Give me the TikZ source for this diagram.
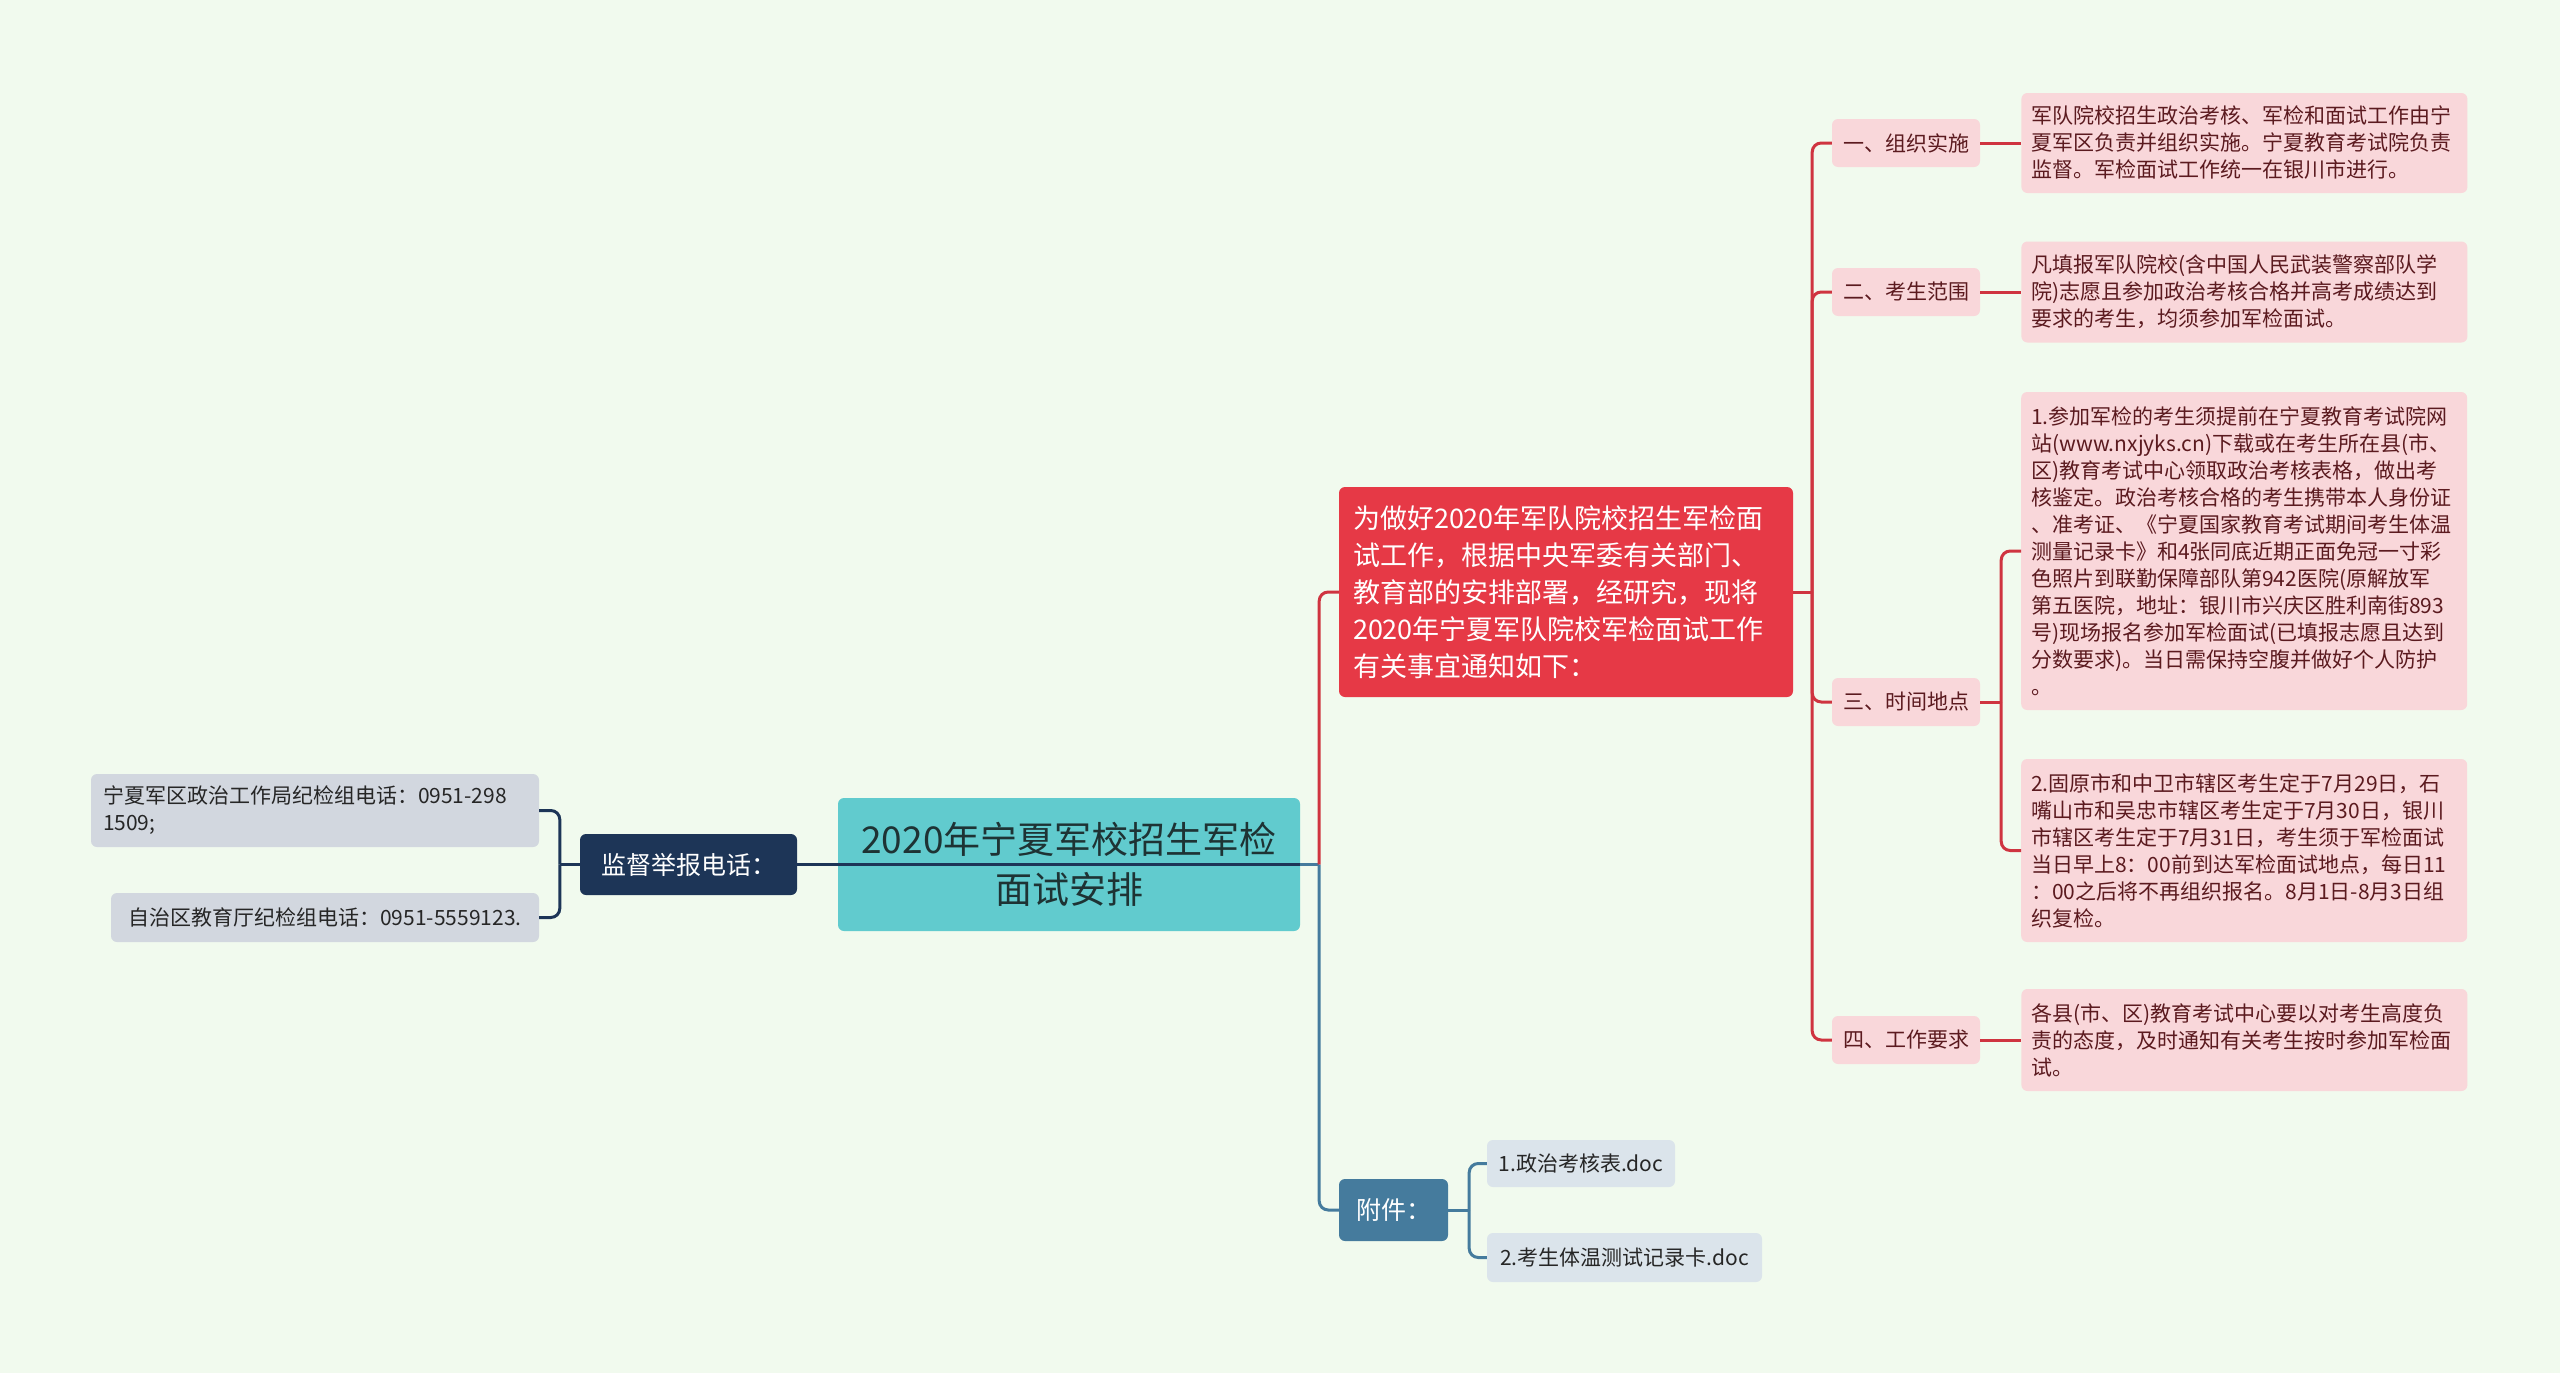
\documentclass[tikz,border=0pt]{standalone}
\usepackage{fontspec}
\setmainfont{Noto Sans CJK SC}
\usepackage{xcolor}
\usetikzlibrary{positioning}

\definecolor{bgmint}{HTML}{F1FAEE}
\definecolor{topicteal}{HTML}{61CBCE}
\definecolor{topictext}{HTML}{1E3334}
\definecolor{navy}{HTML}{1D3557}
\definecolor{alertred}{HTML}{E63946}
\definecolor{linered}{HTML}{CF3440}
\definecolor{steel}{HTML}{457B9D}
\definecolor{notepink}{HTML}{F9D7DA}
\definecolor{notetext}{HTML}{5B1A1F}
\definecolor{greyleaf}{HTML}{D2D7DF}
\definecolor{blueleaf}{HTML}{DBE4EB}

\begin{document}
\begin{tikzpicture}[
  x=1pt, y=-1pt,
  box/.style={rounded corners=6pt, inner sep=0pt, align=center},
  topic/.style={box, fill=topicteal, text=topictext, font=\fontsize{37}{50}\selectfont},
  navybox/.style={box, fill=navy, text=white, font=\fontsize{25}{32}\selectfont},
  redbox/.style={box, fill=alertred, text=white, align=left, text width=426pt,
                 inner xsep=14pt, font=\fontsize{27}{37}\selectfont},
  bluebox/.style={box, fill=steel, text=white, font=\fontsize{25}{32}\selectfont},
  tag/.style={box, fill=notepink, text=notetext, minimum width=148pt, minimum height=48pt,
              font=\fontsize{21}{27}\selectfont},
  note/.style={box, fill=notepink, text=notetext, align=left, text width=426pt,
               inner xsep=10pt, font=\fontsize{21}{27}\selectfont},
  greynote/.style={box, fill=greyleaf, text=black!85, font=\fontsize{21}{27}\selectfont},
  bluenote/.style={box, fill=blueleaf, text=black!85, font=\fontsize{21}{27}\selectfont},
  navyline/.style={draw=navy, line width=3pt},
  redline/.style={draw=linered, line width=3pt},
  blueline/.style={draw=steel, line width=3pt},
  elbow/.style={rounded corners=9pt}
]
\fill[bgmint] (0,0) rectangle (2560,1373);

% centre and first level
\node[topic, minimum width=462pt, minimum height=133pt] (root) at (1069,864.5)
  {2020年宁夏军校招生军检\\面试安排};
\node[navybox, minimum width=217pt, minimum height=61pt] (report) at (688.5,864.5)
  {监督举报电话：};
\node[redbox, minimum height=210pt] (notice) at (1566,592)
  {为做好2020年军队院校招生军检面\\试工作，根据中央军委有关部门、\\教育部的安排部署，经研究，现将\\2020年宁夏军队院校军检面试工作\\有关事宜通知如下：};
\node[bluebox, minimum width=109pt, minimum height=62pt] (annex) at (1393.5,1210)
  {附件：};

% left leaves
\node[greynote, align=left, text width=424pt, inner xsep=12pt, minimum height=73pt] (phoneA) at (315,810.5)
  {宁夏军区政治工作局纪检组电话：0951-298\\1509;};
\node[greynote, minimum width=428pt, minimum height=49pt] (phoneB) at (325,917.5)
  {自治区教育厅纪检组电话：0951-5559123.};

% annex leaves
\node[bluenote, minimum width=188pt, minimum height=47pt] (docA) at (1581,1163.5)
  {1.政治考核表.doc};
\node[bluenote, minimum width=275pt, minimum height=49pt] (docB) at (1624.5,1257.5)
  {2.考生体温测试记录卡.doc};

% notice items
\node[tag] (organize) at (1906,143) {一、组织实施};
\node[tag] (scope) at (1906,292) {二、考生范围};
\node[tag] (timeplace) at (1906,702) {三、时间地点};
\node[tag] (demand) at (1906,1040) {四、工作要求};

\node[note, minimum height=100pt, right=41pt of organize] (orgtext)
  {军队院校招生政治考核、军检和面试工作由宁\\夏军区负责并组织实施。宁夏教育考试院负责\\监督。军检面试工作统一在银川市进行。};
\node[note, minimum height=101pt, right=41pt of scope] (scopetext)
  {凡填报军队院校(含中国人民武装警察部队学\\院)志愿且参加政治考核合格并高考成绩达到\\要求的考生，均须参加军检面试。};
\node[note, minimum height=318pt, anchor=west] (placetext) at (2021,551)
  {1.参加军检的考生须提前在宁夏教育考试院网\\站(www.nxjyks.cn)下载或在考生所在县(市、\\区)教育考试中心领取政治考核表格，做出考\\核鉴定。政治考核合格的考生携带本人身份证\\、准考证、《宁夏国家教育考试期间考生体温\\测量记录卡》和4张同底近期正面免冠一寸彩\\色照片到联勤保障部队第942医院(原解放军\\第五医院，地址：银川市兴庆区胜利南街893\\号)现场报名参加军检面试(已填报志愿且达到\\分数要求)。当日需保持空腹并做好个人防护\\。};
\node[note, minimum height=183pt, anchor=west] (timetext) at (2021,850.5)
  {2.固原市和中卫市辖区考生定于7月29日，石\\嘴山市和吴忠市辖区考生定于7月30日，银川\\市辖区考生定于7月31日，考生须于军检面试\\当日早上8：00前到达军检面试地点，每日11\\：00之后将不再组织报名。8月1日-8月3日组\\织复检。};
\node[note, minimum height=102pt, right=41pt of demand] (demandtext)
  {各县(市、区)教育考试中心要以对考生高度负\\责的态度，及时通知有关考生按时参加军检面\\试。};

% forks
\coordinate[left=20pt of report.west] (reportfork);
\coordinate[right=19pt of root.east] (rootfork);
\coordinate[right=19pt of notice.east] (noticefork);
\coordinate[right=21pt of timeplace.east] (placefork);
\coordinate[right=21pt of annex.east] (annexfork);

% connectors
\draw[navyline] (report.east) -- (root.east);
\draw[navyline] (report.west) -- (reportfork);
\draw[navyline, elbow] (reportfork) |- (phoneA.east);
\draw[navyline, elbow] (reportfork) |- (phoneB.east);

\draw[blueline] (root.east) -- (rootfork);
\draw[redline, elbow] (rootfork) |- (notice.west);
\draw[blueline, elbow] (rootfork) |- (annex.west);

\draw[blueline] (annex.east) -- (annexfork);
\draw[blueline, elbow] (annexfork) |- (docA.west);
\draw[blueline, elbow] (annexfork) |- (docB.west);

\draw[redline] (notice.east) -- (noticefork);
\foreach \item in {organize, scope, timeplace, demand}
  \draw[redline, elbow] (noticefork) |- (\item.west);

\draw[redline] (organize.east) -- (orgtext.west);
\draw[redline] (scope.east) -- (scopetext.west);
\draw[redline] (demand.east) -- (demandtext.west);
\draw[redline] (timeplace.east) -- (placefork);
\draw[redline, elbow] (placefork) |- (placetext.west);
\draw[redline, elbow] (placefork) |- (timetext.west);
\end{tikzpicture}
\end{document}
